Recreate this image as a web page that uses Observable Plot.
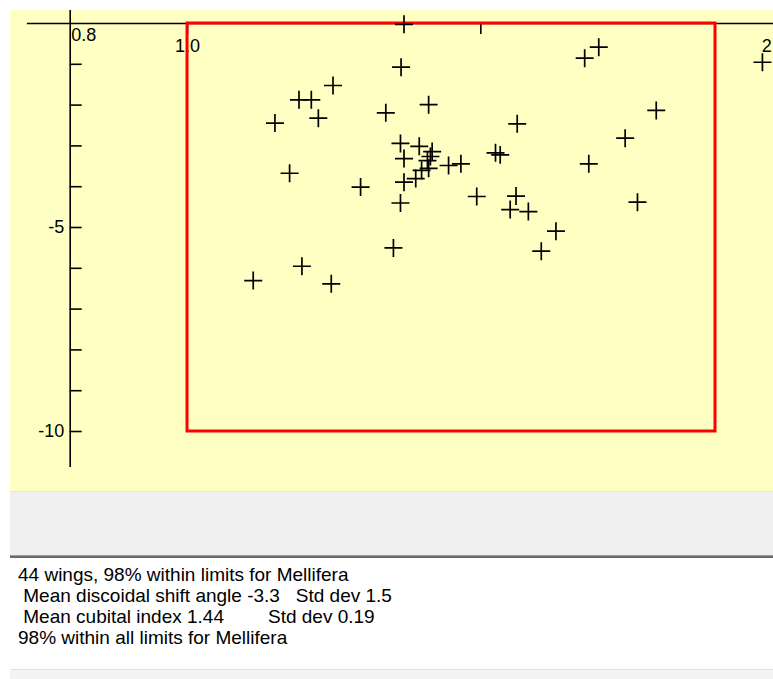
<!DOCTYPE html>
<html>
<head>
<meta charset="utf-8">
<script src="https://cdn.jsdelivr.net/npm/d3@7"></script>
<script src="https://cdn.jsdelivr.net/npm/@observablehq/plot@0.6"></script>
<style>
  html, body { margin: 0; padding: 0; background: #ffffff; }
  body { width: 773px; height: 679px; overflow: hidden; position: relative;
         font-family: "Liberation Sans", Arial, sans-serif; }
  #chart { position: absolute; left: 10px; top: 10px; width: 763px; height: 481px; background: #FFFFC3; }
  #chart svg { display: block; }
  #band { position: absolute; left: 10px; top: 491px; width: 763px; height: 64px; background: #F0F0F0;
          border-top: 1px solid #E6E6E6; box-sizing: border-box; }
  #sep1 { position: absolute; left: 10px; top: 555px; width: 763px; height: 1px; background: #A0A0A0; }
  #sep2 { position: absolute; left: 10px; top: 556px; width: 763px; height: 2px; background: #6A6A6A; }
  #info { position: absolute; left: 18px; top: 564px; font-size: 19px; line-height: 21px; color: #000;
          white-space: pre; }
  #info .line { position: relative; height: 21px; }
  #info .tab { position: absolute; left: 250px; top: 0; }
  #foot1 { position: absolute; left: 10px; top: 669px; width: 763px; height: 1px; background: #E3E3E3; }
  #foot2 { position: absolute; left: 10px; top: 670px; width: 763px; height: 9px; background: #F4F4F4; }
</style>
</head>
<body>
<div id="chart"></div>
<div id="band"></div>
<div id="sep1"></div>
<div id="sep2"></div>
<div id="info"></div>
<div id="foot1"></div>
<div id="foot2"></div>
<script>
// Cubital index (x) and discoidal shift angle (y) of the 44 wings
const cubitalIndex = [
  1.369, 1.364, 1.677, 1.701, 1.980, 1.248, 1.190, 1.211, 1.149, 1.223,
  1.338, 1.411, 1.562, 1.799, 1.746, 1.684, 1.174, 1.295, 1.363, 1.395,
  1.417, 1.369, 1.409, 1.411, 1.389, 1.369, 1.445, 1.466, 1.525, 1.533,
  1.363, 1.493, 1.560, 1.550, 1.581, 1.767, 1.628, 1.603, 1.351, 1.195,
  1.112, 1.245, 1.399, 1.414
];
const discoidalShift = [
  -0.02, -1.07, -0.85, -0.58, -0.95, -1.52, -1.87, -1.87, -2.44, -2.32,
  -2.19, -1.99, -2.46, -2.13, -2.81, -3.44, -3.67, -4.01, -2.94, -3.01,
  -3.14, -3.31, -3.36, -3.55, -3.80, -3.89, -3.48, -3.44, -3.17, -3.22,
  -4.40, -4.24, -4.23, -4.56, -4.61, -4.38, -5.09, -5.58, -5.50, -5.95,
  -6.30, -6.38, -3.60, -3.26
];

// Mellifera limits
const limitCubital = [1.0, 1.9];
const limitShift = [-10, 0];

// Axes
const xAxisExtent = [0.727, 2.0];
const yAxisExtent = [0.32, -10.88];
const yTicks = [-1, -2, -3, -4, -5, -6, -7, -8, -9, -10];
const yTickLabels = ["-5", "-10"];
const yTickLabelValues = [-5, -10];
const xTicks = [1.0, 1.5, 2.0];
const xOriginLabel = ["0.8"];
const xOriginValue = [0.8];
const xTickLabels = ["1.0", "2.0"];
const xTickLabelValues = [1.0, 2.0];

const infoLines = [
  "44 wings, 98% within limits for Mellifera",
  " Mean discoidal shift angle -3.3   Std dev 1.5",
  [" Mean cubital index 1.44", "Std dev 0.19"],
  "98% within all limits for Mellifera"
];

const wings = cubitalIndex.map((c, i) => ({ci: c, ds: discoidalShift[i]}));
const limits = [{x1: limitCubital[0], x2: limitCubital[1], y1: limitShift[0], y2: limitShift[1]}];
const yLab = yTickLabelValues.map((v, i) => ({v, label: yTickLabels[i]}));
const xLab0 = xOriginValue.map((v, i) => ({v, label: xOriginLabel[i]}));
const xLab = xTickLabelValues.map((v, i) => ({v, label: xTickLabels[i]}));

const plot = Plot.plot({
  width: 763,
  height: 481,
  marginLeft: 59.7,
  marginRight: 58,
  marginTop: 13,
  marginBottom: 60,
  x: {domain: [0.8, 1.9], axis: null},
  y: {domain: [-10, 0], axis: null},
  style: {background: "transparent", fontFamily: "'Liberation Sans', Arial, sans-serif", fontSize: "18px", color: "black"},
  marks: [
    Plot.ruleY([0], {x1: xAxisExtent[0], x2: xAxisExtent[1], stroke: "black", strokeWidth: 1.6}),
    Plot.ruleX([xOriginValue[0]], {y1: yAxisExtent[0], y2: yAxisExtent[1], stroke: "black", strokeWidth: 1.6}),
    Plot.ruleY(yTicks, {y: d => d, x1: xOriginValue[0], x2: xOriginValue[0], insetRight: -12, stroke: "black", strokeWidth: 1.6}),
    Plot.ruleX(xTicks, {x: d => d, y1: 0, y2: 0, insetBottom: -11, stroke: "black", strokeWidth: 1.6}),
    Plot.text(yLab, {x: xOriginValue[0], y: "v", text: "label", textAnchor: "end", dx: -6, fill: "black", fontSize: 18}),
    Plot.text(xLab0, {x: "v", y: 0, text: "label", textAnchor: "start", lineAnchor: "top", dx: 1, dy: 5, fill: "black", fontSize: 18}),
    Plot.text(xLab, {x: "v", y: 0, text: "label", lineAnchor: "top", dy: 16, fill: "black", fontSize: 18}),
    Plot.rect(limits, {x1: "x1", x2: "x2", y1: "y1", y2: "y2", fill: "none", stroke: "#FF0000", strokeWidth: 3}),
    Plot.dot(wings, {x: "ci", y: "ds", symbol: "plus", r: 5.85, stroke: "black", strokeWidth: 1.7})
  ]
});
document.getElementById("chart").appendChild(plot);

const info = document.getElementById("info");
for (const l of infoLines) {
  const div = document.createElement("div");
  div.className = "line";
  if (Array.isArray(l)) {
    div.textContent = l[0];
    const s = document.createElement("span");
    s.className = "tab";
    s.textContent = l[1];
    div.appendChild(s);
  } else {
    div.textContent = l;
  }
  info.appendChild(div);
}
</script>
</body>
</html>
